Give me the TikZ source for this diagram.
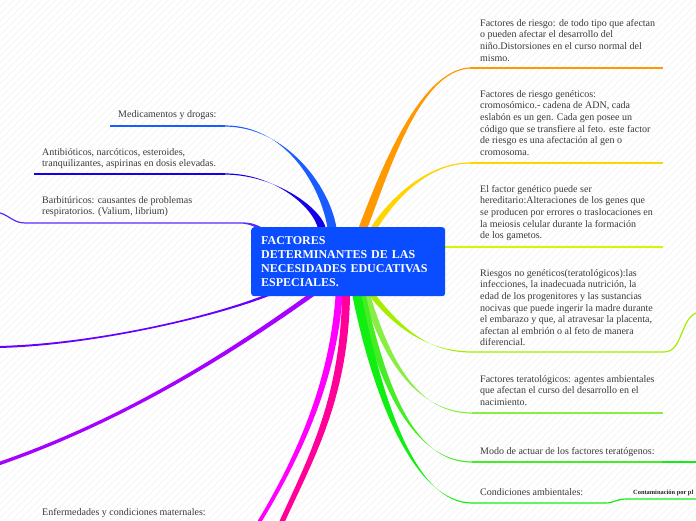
\documentclass[tikz,border=0pt]{standalone}
\usepackage{fontspec}
\setmainfont{Liberation Serif}
\usetikzlibrary{calc}
\definecolor{boxblue}{HTML}{0A4CFF}
\definecolor{txt}{HTML}{3A3A3A}
\definecolor{cB1}{HTML}{1A5CFF}
\definecolor{cB2}{HTML}{1400E6}
\definecolor{cB3}{HTML}{5A2BFF}
\definecolor{cB4}{HTML}{6600FF}
\definecolor{cB5}{HTML}{A600FF}
\definecolor{cMag}{HTML}{FF00FF}
\definecolor{cPink}{HTML}{FF0099}
\definecolor{cOr}{HTML}{FF9900}
\definecolor{cGold}{HTML}{FFD400}
\definecolor{cR3}{HTML}{D5F500}
\definecolor{cR4}{HTML}{A5EE00}
\definecolor{cR5}{HTML}{88EE44}
\definecolor{cR6}{HTML}{44EE22}
\definecolor{cR7}{HTML}{11EE11}
\tikzset{
  leaf/.style={anchor=north west, inner sep=0pt, align=left, text=txt,
    font=\fontsize{10}{11.6}\selectfont},
  uline/.style={line width=1.2pt},
  stripe/.style={draw=black!5, line width=0.6pt},
  centrebox/.style={anchor=north west, fill=boxblue, rounded corners=3pt,
    minimum height=69pt, text width=174pt, inner xsep=10pt, inner ysep=0pt,
    align=left, text=white, font=\bfseries\fontsize{12}{13.8}\selectfont},
}
% #1 colour, #2 start, #3 control 1, #4 control 2, #5 end, #6 start half-offset, #7 end half-offset
\newcommand\taper[7]{%
  \fill[#1] ($(#2)+#6$) .. controls ($#3+#6$) and ($#4+#7$) .. ($(#5)+#7$)
    -- ($(#5)-#7$) .. controls ($#4-#7$) and ($#3-#6$) .. ($(#2)-#6$) -- cycle;}
\begin{document}
\begin{tikzpicture}[x=1pt,y=-1pt]
\clip (0,0) rectangle (696,520);
\fill[white] (0,0) rectangle (696,520);
\foreach \i in {0,7,...,1218} \draw[stripe] (\i-520,520) -- (\i,0);

% ---------- coordinates ----------
\coordinate (sB1) at (332,228);  \coordinate (eB1) at (225,126); \coordinate (uB1) at (110,126);
\coordinate (sB2) at (322,229);  \coordinate (eB2) at (225,174); \coordinate (uB2) at (34,174);
\coordinate (sB3) at (262,229);  \coordinate (eB3) at (240,223); \coordinate (uB3) at (25,223);
\coordinate (xB3) at (-5,212);
\coordinate (sB4) at (268,295);  \coordinate (eB4) at (-2,347);
\coordinate (sB5) at (310,296);  \coordinate (eB5) at (-2,464);
\coordinate (sMag) at (339,296); \coordinate (eMag) at (258,524);
\coordinate (sPink) at (346,296); \coordinate (ePink) at (281,524);
\coordinate (sR1) at (363,228);  \coordinate (eR1) at (470,68);  \coordinate (uR1) at (663,68);
\coordinate (sR2) at (374,228);  \coordinate (eR2) at (470,163); \coordinate (uR2) at (663,163);
\coordinate (sR3) at (445,247);  \coordinate (uR3) at (663,247);
\coordinate (sR4) at (373,296);  \coordinate (eR4) at (472,352); \coordinate (uR4) at (664,352);
\coordinate (xR4) at (700,312);
\coordinate (sR5) at (367,296);  \coordinate (eR5) at (472,413); \coordinate (uR5) at (663,413);
\coordinate (sR6) at (362,296);  \coordinate (eR6) at (472,462); \coordinate (uR6) at (662,462);
\coordinate (xR6) at (700,462);
\coordinate (sR7) at (357,296);  \coordinate (eR7) at (472,503); \coordinate (uR7) at (605,503);
\coordinate (vR7) at (627,499);  \coordinate (xR7) at (700,499);

% ---------- left branches ----------
\taper{cB1}{sB1}{(325,185)}{(285,126)}{eB1}{(4.5,0)}{(0,0.6)}
\draw[cB1,uline] (eB1) -- (uB1);
\taper{cB2}{sB2}{(318,208)}{(275,174)}{eB2}{(4,0)}{(0,0.6)}
\draw[cB2,uline] (eB2) -- (uB2);
\taper{cB3}{sB3}{(252,224)}{(248,223)}{eB3}{(0,1.5)}{(0,0.6)}
\draw[cB3,uline] (eB3) -- (uB3) .. controls (12,223) and (8,213) .. (xB3);
\taper{cB4}{sB4}{(210,318)}{(90,345)}{eB4}{(3.5,0)}{(0,1)}
\taper{cB5}{sB5}{(255,335)}{(140,415)}{eB5}{(4,0)}{(0,1.8)}
\taper{cMag}{sMag}{(333,380)}{(300,455)}{eMag}{(3.5,0)}{(2.2,0)}
\taper{cPink}{sPink}{(344,400)}{(310,460)}{ePink}{(4,0)}{(2.8,0)}

% ---------- right branches ----------
\taper{cOr}{sR1}{(385,170)}{(420,70)}{eR1}{(4.5,0)}{(0,0.6)}
\draw[cOr,uline] (eR1) -- (uR1);
\taper{cGold}{sR2}{(395,195)}{(430,163)}{eR2}{(3.5,0)}{(0,0.6)}
\draw[cGold,uline] (eR2) -- (uR2);
\draw[cR3,line width=1.6pt] (sR3) -- (uR3);
\taper{cR4}{sR4}{(400,330)}{(430,352)}{eR4}{(3.5,0)}{(0,0.6)}
\draw[cR4,uline] (eR4) -- (uR4) .. controls (684,352) and (680,314) .. (xR4);
\taper{cR5}{sR5}{(388,365)}{(420,413)}{eR5}{(3.5,0)}{(0,0.6)}
\draw[cR5,uline] (eR5) -- (uR5);
\taper{cR6}{sR6}{(383,390)}{(415,462)}{eR6}{(4,0)}{(0,0.6)}
\draw[cR6,uline] (eR6) -- (uR6);
\draw[cR7,uline] (uR6) -- (xR6);
\taper{cR7}{sR7}{(378,400)}{(415,503)}{eR7}{(4.5,0)}{(0,0.6)}
\draw[cR7,uline] (eR7) -- (uR7) .. controls (615,503) and (615,499) .. (vR7) -- (xR7);

% ---------- central node ----------
\node[centrebox] (c) at (251,227) {FACTORES\\ DETERMINANTES DE LAS\\ NECESIDADES EDUCATIVAS\\ ESPECIALES.};

% ---------- text nodes ----------
\node[leaf] (L1) at (118,108.9) {\strut Medicamentos y drogas:};
\node[leaf] (L2) at (42,146.9) {\strut Antibióticos, narcóticos, esteroides,\\ tranquilizantes, aspirinas en dosis elevadas.};
\node[leaf] (L3) at (42,194.9) {\strut Barbitúricos: causantes de problemas\\ respiratorios. (Valium, librium)};
\node[leaf] (L4) at (42,506.9) {\strut Enfermedades y condiciones maternales:};

\node[leaf] (R1) at (480,17.9) {\strut Factores de riesgo: de todo tipo que afectan\\ o pueden afectar el desarrollo del\\ niño.Distorsiones en el curso normal del\\ mismo.};
\node[leaf] (R2) at (480,88.9) {\strut Factores de riesgo genéticos:\\ cromosómico.- cadena de ADN, cada\\ eslabón es un gen. Cada gen posee un\\ código que se transfiere al feto. este factor\\ de riesgo es una afectación al gen o\\ cromosoma.};
\node[leaf] (R3) at (480,183.9) {\strut El factor genético puede ser\\ hereditario:Alteraciones de los genes que\\ se producen por errores o traslocaciones en\\ la meiosis celular durante la formación\\ de los gametos.};
\node[leaf] (R4) at (480,267.9) {\strut Riesgos no genéticos(teratológicos):las\\ infecciones, la inadecuada nutrición, la\\ edad de los progenitores y las sustancias\\ nocivas que puede ingerir la madre durante\\ el embarazo y que, al atravesar la placenta,\\ afectan al embrión o al feto de manera\\ diferencial.};
\node[leaf] (R5) at (480,373.9) {\strut Factores teratológicos: agentes ambientales\\ que afectan el curso del desarrollo en el\\ nacimiento.};
\node[leaf] (R6) at (480,445.9) {\strut Modo de actuar de los factores teratógenos:};
\node[leaf] (R7) at (480,486.9) {\strut Condiciones ambientales:};
\node[anchor=base west, inner sep=0pt, text=black!85, font=\bfseries\fontsize{6.4}{7}\selectfont] (R7a) at (633,494.5) {Contaminación por pl};
\end{tikzpicture}
\end{document}
